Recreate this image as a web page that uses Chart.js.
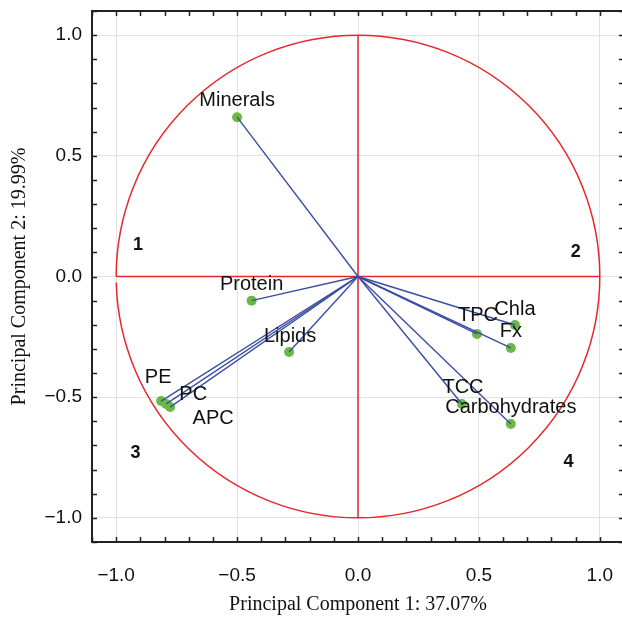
<!DOCTYPE html>
<html>
<head>
  <meta charset="utf-8">
  <title>PCA loading plot</title>
  <style>
    html, body { margin: 0; padding: 0; background: #fff; overflow: hidden; }
    .chart-container { position: relative; width: 624px; height: 617px; }
  </style>
</head>
<body>
  <div class="chart-container">
    <canvas id="myChart" width="624" height="617"></canvas>
  </div>

  <script src="https://cdn.jsdelivr.net/npm/chart.js"></script>
  <script>
    // data
    const variables = ['Minerals', 'Protein', 'Lipids', 'PE', 'PC', 'APC', 'Chla', 'TPC', 'Fx', 'TCC', 'Carbohydrates'];
    const pc1 = [-0.50, -0.44, -0.285, -0.814, -0.793, -0.777, 0.649, 0.492, 0.632, 0.430, 0.632];
    const pc2 = [0.66, -0.10, -0.313, -0.516, -0.528, -0.541, -0.201, -0.238, -0.296, -0.528, -0.611];

    const quadrantLabels = ['1', '2', '3', '4'];
    const quadrantX = [-0.91, 0.90, -0.92, 0.87];
    const quadrantY = [0.13, 0.10, -0.73, -0.77];

    const majorTicks = [-1.0, -0.5, 0.0, 0.5, 1.0];
    const minorTicks = [-1.1, -1.0, -0.9, -0.8, -0.7, -0.6, -0.5, -0.4, -0.3, -0.2, -0.1, 0.0,
      0.1, 0.2, 0.3, 0.4, 0.5, 0.6, 0.7, 0.8, 0.9, 1.0, 1.1];

    // styles
    const blue = '#3a4ea2';
    const green = '#6bb944';
    const red = '#e8262b';
    const frameColor = '#222';
    const sans = "Arial, 'Liberation Sans', sans-serif";
    const serif = "'Times New Roman', 'Liberation Serif', serif";

    // label offsets in px from the point (text centre)
    const labelOffsets = {
      Minerals: [0, -17], Protein: [0, -16], Lipids: [1, -16],
      PE: [-3, -24], PC: [27, -9], APC: [43, 11],
      Chla: [0, -16], TPC: [1, -18], Fx: [0, -16],
      TCC: [1, -16], Carbohydrates: [0, -16]
    };

    const lineSets = variables.map((v, i) => ({
      label: v,
      type: 'scatter',
      showLine: true,
      data: [{ x: 0, y: 0 }, { x: pc1[i], y: pc2[i] }],
      borderColor: blue,
      borderWidth: 1.4,
      pointRadius: 0,
      order: 0
    }));

    const pointSet = {
      label: 'points',
      type: 'scatter',
      data: variables.map((v, i) => ({ x: pc1[i], y: pc2[i] })),
      backgroundColor: green,
      borderWidth: 0,
      pointRadius: 5,
      order: 1
    };

    function fmt(v) {
      return (v < 0 ? '\u2212' : '') + Math.abs(v).toFixed(1);
    }

    // no extra room for first/last tick labels
    function noPad(s) {
      s.paddingLeft = 0; s.paddingRight = 0;
      s.paddingTop = 0; s.paddingBottom = 0;
    }

    // circle, cross, labels, frame
    const pcaDecor = {
      id: 'pcaDecor',
      beforeDatasetsDraw(chart) {
        const { ctx, scales: { x, y } } = chart;
        const cx = x.getPixelForValue(0), cy = y.getPixelForValue(0);
        const rx = x.getPixelForValue(1) - cx, ry = cy - y.getPixelForValue(1);
        ctx.save();
        ctx.strokeStyle = red;
        ctx.lineWidth = 1.5;
        ctx.beginPath();
        ctx.ellipse(cx, cy, rx, ry, 0, Math.PI, 3 * Math.PI - 0.025);
        ctx.stroke();
        ctx.beginPath();
        ctx.moveTo(x.getPixelForValue(-1), cy);
        ctx.lineTo(x.getPixelForValue(1), cy);
        ctx.moveTo(cx, y.getPixelForValue(1));
        ctx.lineTo(cx, y.getPixelForValue(-1));
        ctx.stroke();
        ctx.restore();
      },
      afterDatasetsDraw(chart) {
        const { ctx, scales: { x, y } } = chart;
        ctx.save();
        ctx.fillStyle = '#111';
        ctx.font = '20px ' + sans;
        ctx.textAlign = 'center';
        ctx.textBaseline = 'middle';
        variables.forEach((v, i) => {
          const off = labelOffsets[v];
          ctx.fillText(v, x.getPixelForValue(pc1[i]) + off[0], y.getPixelForValue(pc2[i]) + off[1]);
        });
        ctx.font = 'bold 18px ' + sans;
        quadrantLabels.forEach((q, i) => {
          ctx.fillText(q, x.getPixelForValue(quadrantX[i]), y.getPixelForValue(quadrantY[i]));
        });
        ctx.restore();
      },
      afterDraw(chart) {
        const { ctx, chartArea: a, scales: { x, y } } = chart;
        ctx.save();
        ctx.strokeStyle = frameColor;
        ctx.lineWidth = 1.5;
        ctx.beginPath();
        minorTicks.forEach(t => {
          const px = Math.round(x.getPixelForValue(t)) + 0.5;
          const py = Math.round(y.getPixelForValue(t)) + 0.5;
          ctx.moveTo(px, a.bottom); ctx.lineTo(px, a.bottom - 5);
          ctx.moveTo(px, a.top); ctx.lineTo(px, a.top + 5);
          ctx.moveTo(a.left, py); ctx.lineTo(a.left + 5, py);
          ctx.moveTo(a.right, py); ctx.lineTo(a.right - 5, py);
        });
        ctx.stroke();
        ctx.lineWidth = 2;
        ctx.strokeRect(a.left, a.top, a.right - a.left, a.bottom - a.top);
        ctx.restore();
      }
    };

    const config = {
      type: 'scatter',
      data: { datasets: [...lineSets, pointSet] },
      options: {
        responsive: false,
        animation: false,
        layout: { autoPadding: false, padding: { top: 11, left: 0, right: 0, bottom: 0 } },
        plugins: { legend: { display: false }, tooltip: { enabled: false } },
        scales: {
          x: {
            type: 'linear',
            min: -1.1,
            max: 1.1,
            afterBuildTicks: s => { s.ticks = majorTicks.map(v => ({ value: v })); },
            afterFit: s => { s.height = 75; noPad(s); },
            grid: { color: '#e2e2e2', lineWidth: 1, drawTicks: false },
            border: { display: false },
            ticks: {
              color: '#111',
              font: { family: sans, size: 19 },
              padding: 22,
              autoSkip: false,
              maxRotation: 0,
              callback: v => fmt(v)
            },
            title: {
              display: true,
              text: 'Principal Component 1: 37.07%',
              color: '#111',
              font: { family: serif, size: 20 },
              padding: { top: 0, bottom: 0 }
            }
          },
          y: {
            type: 'linear',
            min: -1.1,
            max: 1.1,
            afterBuildTicks: s => { s.ticks = majorTicks.map(v => ({ value: v })); },
            afterFit: s => { s.width = 92; noPad(s); },
            grid: { color: '#e2e2e2', lineWidth: 1, drawTicks: false },
            border: { display: false },
            ticks: {
              color: '#111',
              font: { family: sans, size: 19 },
              padding: 10,
              autoSkip: false,
              callback: v => fmt(v)
            },
            title: {
              display: true,
              text: 'Principal Component 2: 19.99%',
              color: '#111',
              font: { family: serif, size: 20 },
              padding: { top: 8, bottom: 0 }
            }
          }
        }
      },
      plugins: [pcaDecor]
    };

    const ctx = document.getElementById('myChart').getContext('2d');
    const myChart = new Chart(ctx, config);
  </script>
</body>
</html>
